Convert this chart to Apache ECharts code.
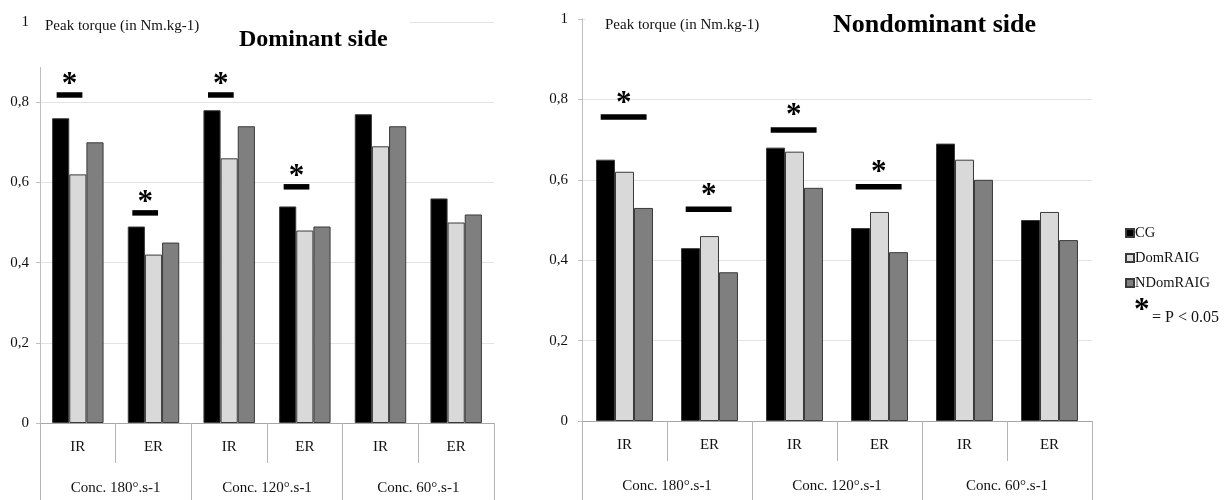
<!DOCTYPE html>
<html>
<head>
<meta charset="utf-8">
<script src="https://cdn.jsdelivr.net/npm/echarts@6/dist/echarts.min.js"></script>
<style>
html,body{margin:0;padding:0;background:#fff;}
#chart{width:1228px;height:500px;}
</style>
</head>
<body>
<div id="chart"></div>
<script>
// ---- data ----
const innerCategories = ['IR', 'ER', 'IR', 'ER', 'IR', 'ER'];
const outerCategories = ['Conc. 180°.s-1', 'Conc. 120°.s-1', 'Conc. 60°.s-1'];
const seriesNames = ['CG', 'DomRAIG', 'NDomRAIG'];

// Dominant side
const domCG       = [0.76, 0.49, 0.78, 0.54, 0.77, 0.56];
const domDomRAIG  = [0.62, 0.42, 0.66, 0.48, 0.69, 0.50];
const domNDomRAIG = [0.70, 0.45, 0.74, 0.49, 0.74, 0.52];
// Nondominant side
const ndCG        = [0.65, 0.43, 0.68, 0.48, 0.69, 0.50];
const ndDomRAIG   = [0.62, 0.46, 0.67, 0.52, 0.65, 0.52];
const ndNDomRAIG  = [0.53, 0.37, 0.58, 0.42, 0.60, 0.45];

// significance markers (category index, level in axis units)
const domSigCats   = [0, 1, 2, 3];
const domSigLevels = [0.818, 0.524, 0.818, 0.589];
const ndSigCats    = [0, 1, 2, 3];
const ndSigLevels  = [0.756, 0.527, 0.724, 0.583];

const yTicks = [0, 0.2, 0.4, 0.6, 0.8, 1];

// ---- styles ----
const SERIF = '"Liberation Serif", "DejaVu Serif", serif';
const colors = ['#000000', '#d9d9d9', '#7f7f7f'];
const textColor = '#111';

const chart = echarts.init(document.getElementById('chart'), null, {renderer: 'canvas'});

function yAxisCfg(gridIndex, margin) {
  return {
    type: 'value', gridIndex, min: yTicks[0], max: yTicks[yTicks.length - 1], interval: yTicks[1] - yTicks[0],
    axisLine: {show: true, lineStyle: {color: '#bfbfbf', width: 1}},
    axisTick: {show: true, length: 4, lineStyle: {color: '#bfbfbf'}},
    splitLine: {show: true, lineStyle: {color: '#e3e3e3', width: 1}},
    axisLabel: {
      margin, color: textColor, fontFamily: SERIF, fontSize: 15,
      formatter: v => String(Math.round(v * 10) / 10).replace('.', ',')
    }
  };
}
function innerX(gridIndex) {
  return {
    type: 'category', gridIndex, data: innerCategories, position: 'bottom',
    axisLine: {show: true, lineStyle: {color: '#a6a6a6', width: 1}},
    axisTick: {show: true, length: 40, interval: 0, lineStyle: {color: '#b5b5b5'}},
    axisLabel: {margin: 17, interval: 0, color: textColor, fontFamily: SERIF, fontSize: 15}
  };
}
function outerX(gridIndex) {
  return {
    type: 'category', gridIndex, data: outerCategories, position: 'bottom',
    axisLine: {show: false},
    axisTick: {show: true, length: 80, interval: 0, lineStyle: {color: '#b5b5b5'}},
    axisLabel: {margin: 58, interval: 0, color: textColor, fontFamily: SERIF, fontSize: 15}
  };
}
function barSeries(name, i, data, xIdx, yIdx, gap) {
  return {
    name, type: 'bar', xAxisIndex: xIdx, yAxisIndex: yIdx, data,
    barGap: '0%', barCategoryGap: gap,
    itemStyle: {color: colors[i], borderColor: '#3a3a3a', borderWidth: 1},
    emphasis: {disabled: true}, z: 2
  };
}
function sigSeries(xIdx, yIdx, cats, levels, startFrac, widthFrac, starDy) {
  return {
    type: 'custom', xAxisIndex: xIdx, yAxisIndex: yIdx, silent: true, z: 5,
    data: cats.map((c, i) => [c, levels[i]]),
    renderItem: (params, api) => {
      const p = api.coord([api.value(0), api.value(1)]);
      const bw = api.size([1, 0])[0];
      const x0 = p[0] - bw / 2 + startFrac * bw;
      const w = widthFrac * bw;
      return {
        type: 'group',
        children: [
          {type: 'rect', shape: {x: x0, y: p[1] - 2.75, width: w, height: 5.5}, style: {fill: '#000'}},
          {type: 'text', style: {text: '*', x: x0 + w / 2, y: p[1] + starDy, align: 'center', verticalAlign: 'bottom',
            font: 'bold 31px ' + SERIF, fill: '#000'}}
        ]
      };
    }
  };
}

const option = {
  backgroundColor: '#fff',
  animation: false,
  title: [
    {text: 'Peak torque (in Nm.kg-1)', left: 36, top: 8, padding: [11, 8, 33, 9], backgroundColor: '#fff',
     textStyle: {fontFamily: SERIF, fontSize: 15, fontWeight: 'normal', color: textColor}},
    {text: 'Dominant side', left: 205, top: 14, padding: [14, 22, 6, 34], backgroundColor: '#fff',
     textStyle: {fontFamily: SERIF, fontSize: 24, fontWeight: 'bold', color: '#000'}},
    {text: 'Peak torque (in Nm.kg-1)', left: 586, top: 7, padding: [11, 10, 8, 19], backgroundColor: '#fff',
     textStyle: {fontFamily: SERIF, fontSize: 15, fontWeight: 'normal', color: textColor}},
    {text: 'Nondominant side', left: 767, top: 0, padding: [12, 56, 10, 66], backgroundColor: '#fff',
     textStyle: {fontFamily: SERIF, fontSize: 26, fontWeight: 'bold', color: '#000'}}
  ],
  legend: {
    data: seriesNames, orient: 'vertical', left: 1125, top: 225, padding: 0,
    itemWidth: 8, itemHeight: 8, itemGap: 9, icon: 'rect', selectedMode: false,
    textStyle: {fontFamily: SERIF, fontSize: 14.5, color: textColor, lineHeight: 16, padding: [0, 0, 0, -4]}
  },
  grid: [
    {left: 40, right: 734, top: 22, bottom: 77, containLabel: false, outerBoundsMode: 'none'},
    {left: 582, right: 136, top: 19, bottom: 79, containLabel: false, outerBoundsMode: 'none'}
  ],
  xAxis: [innerX(0), outerX(0), innerX(1), outerX(1)],
  yAxis: [yAxisCfg(0, 11), yAxisCfg(1, 14)],
  series: [
    barSeries(seriesNames[0], 0, domCG, 0, 0, '32%'),
    barSeries(seriesNames[1], 1, domDomRAIG, 0, 0, '32%'),
    barSeries(seriesNames[2], 2, domNDomRAIG, 0, 0, '32%'),
    barSeries(seriesNames[0], 0, ndCG, 2, 1, '33%'),
    barSeries(seriesNames[1], 1, ndDomRAIG, 2, 1, '33%'),
    barSeries(seriesNames[2], 2, ndNDomRAIG, 2, 1, '33%'),
    sigSeries(0, 0, domSigCats, domSigLevels, 0.22, 0.34, 6),
    sigSeries(2, 1, ndSigCats, ndSigLevels, 0.22, 0.54, 2)
  ],
  graphic: [
    {type: 'text', left: 1134, top: 295, style: {text: '*', font: 'bold 31px ' + SERIF, fill: '#000'}},
    {type: 'text', left: 1152, top: 310, style: {text: '= P < 0.05', font: '16px ' + SERIF, fill: textColor}}
  ]
};
chart.setOption(option);
</script>
</body>
</html>
